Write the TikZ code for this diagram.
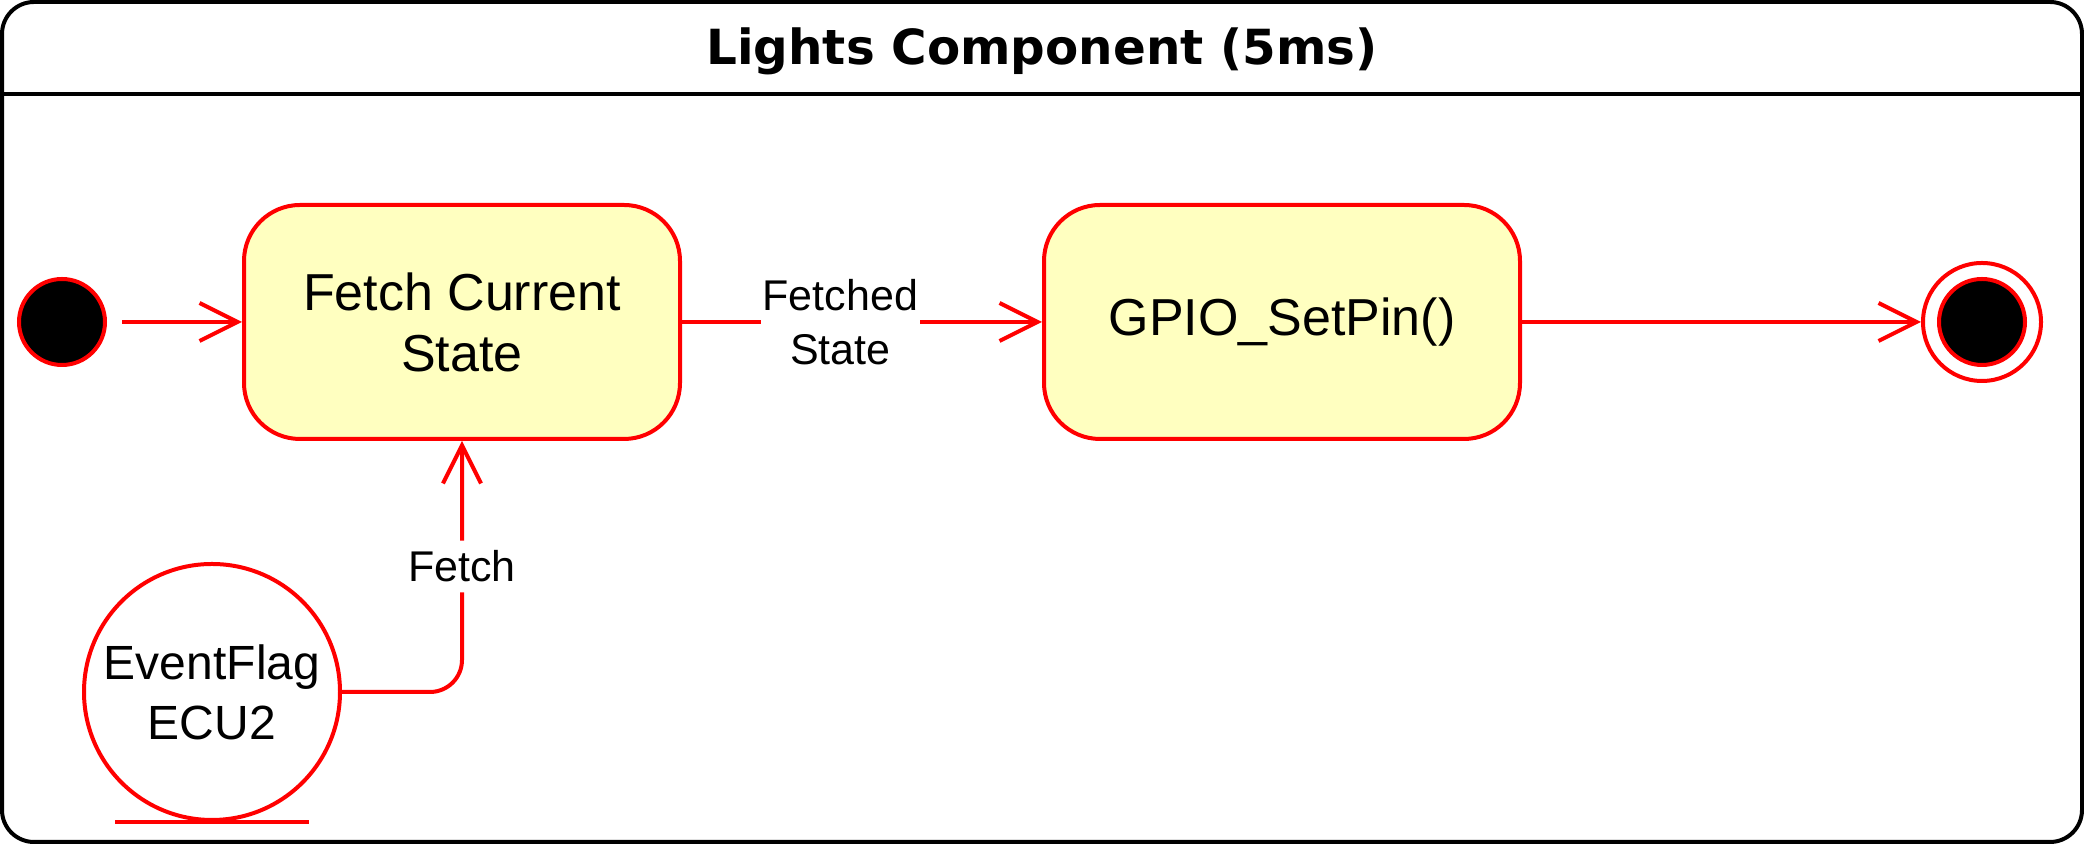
\documentclass[tikz,border=0pt]{standalone}
\usepackage{fontspec}
\setmainfont{Liberation Sans}
\newfontfamily\titlefont{DejaVu Sans}
\usepackage{tikz}
\usetikzlibrary{arrows.meta, positioning, calc}
\definecolor{statered}{RGB}{255, 0, 0}
\definecolor{stateyellow}{RGB}{255, 255, 192}

\begin{document}
\begin{tikzpicture}[
    x=0.5pt, y=0.5pt,
    frame/.style={
        rectangle,
        rounded corners=16pt,
        draw=black,
        line width=2pt,
        outer sep=0pt,
        minimum width=1040pt,
        minimum height=420pt
    },
    titletext/.style={
        font=\titlefont\bfseries\fontsize{24.2}{28}\selectfont
    },
    statebox/.style={
        rectangle,
        rounded corners=28pt,
        draw=statered,
        line width=2pt,
        fill=stateyellow,
        align=center,
        minimum height=117pt,
        font=\fontsize{26}{30.5}\selectfont
    },
    startdot/.style={
        circle,
        draw=statered,
        line width=2pt,
        fill=black,
        minimum size=43pt,
        inner sep=0pt
    },
    stopring/.style={
        circle,
        draw=statered,
        line width=2pt,
        fill=white,
        minimum size=59pt,
        inner sep=0pt
    },
    flagcircle/.style={
        circle,
        draw=statered,
        line width=2pt,
        fill=white,
        minimum size=128pt,
        inner sep=0pt,
        align=center,
        font=\fontsize{24}{30}\selectfont
    },
    arrow/.style={
        -{Straight Barb[length=19pt, width=19pt]},
        line width=2pt,
        draw=statered
    },
    edgelabel/.style={
        fill=white,
        inner xsep=1pt,
        inner ysep=5pt,
        align=center,
        font=\fontsize{21.5}{27}\selectfont
    }
]
    \useasboundingbox (0,0) rectangle (2084,844);

    % Container with header
    \node[frame] (comp) at (1042,422) {};
    \node[titletext] (title) at (1042,793) {Lights Component (5ms)};
    \coordinate (hdr) at (1042,750);
    \draw[line width=2pt] (hdr -| comp.west) -- (hdr -| comp.east);

    % States
    \node[startdot] (start) at (62,522) {};
    \node[statebox, minimum width=218pt] (fetch) at (462,522) {Fetch Current\\State};
    \node[statebox, minimum width=238pt] (gpio) at (1282,522) {GPIO\_SetPin()};
    \node[stopring] (stop) at (1982,522) {};
    \node[startdot] (stopdot) at (stop) {};

    % Event flag
    \node[flagcircle] (flag) at (212,152) {EventFlag\\ECU2};
    \draw[draw=statered, line width=2pt] ([xshift=-48.5pt]flag.south) -- ([xshift=48.5pt]flag.south);

    % Transitions
    \draw[arrow, shorten <=7.5pt] (start) -- (fetch);
    \draw[arrow] (fetch) -- node[edgelabel, pos=0.44] {Fetched\\State} (gpio);
    \draw[arrow] (gpio) -- (stop);
    \draw[arrow, rounded corners=16pt] (flag.east) -| node[edgelabel, pos=0.75] {Fetch} (fetch.south);

\end{tikzpicture}
\end{document}
